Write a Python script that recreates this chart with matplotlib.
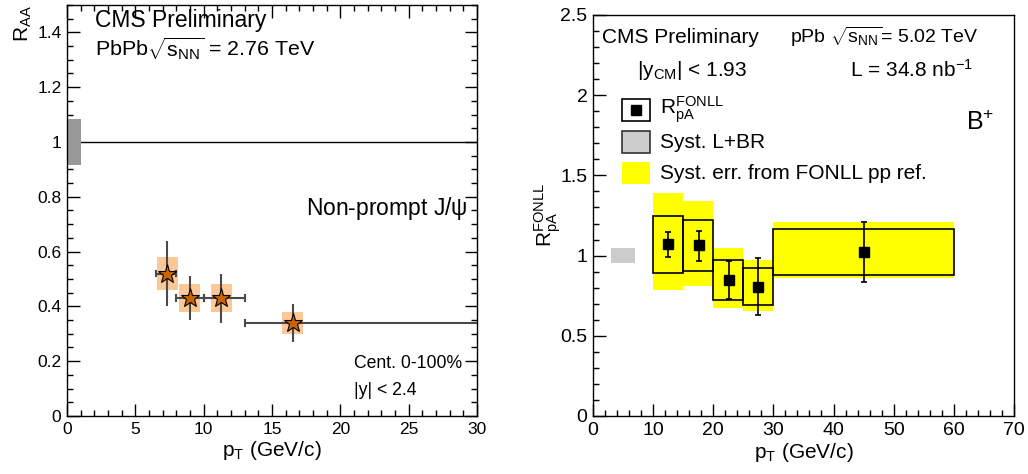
import numpy as np
import matplotlib
matplotlib.use("Agg")
import matplotlib.pyplot as plt
from matplotlib.patches import Rectangle
from matplotlib.ticker import MultipleLocator

plt.rcParams['font.family'] = ['Liberation Sans', 'DejaVu Sans']
plt.rcParams['mathtext.fontset'] = 'custom'
plt.rcParams['mathtext.rm'] = 'Liberation Sans'
plt.rcParams['mathtext.it'] = 'Liberation Sans'
plt.rcParams['mathtext.default'] = 'regular'

# --- PbPb non-prompt J/psi R_AA ---
aa_pt = [7.35, 8.97, 11.3, 16.5]
aa_lo = [6.5, 8.0, 10.0, 13.0]
aa_hi = [8.0, 10.0, 13.0, 30.0]
aa_raa = [0.52, 0.43, 0.43, 0.34]
aa_stat = [0.12, 0.08, 0.09, 0.07]
aa_syst = [0.06, 0.05, 0.05, 0.04]
aa_box_half = 0.77
aa_glob = 0.083  # global uncertainty at unity

# --- pPb B+ R_pA FONLL ---
pa_lo = [10, 15, 20, 25, 30]
pa_hi = [15, 20, 25, 30, 60]
pa_pt = [12.5, 17.6, 22.6, 27.5, 45.0]
pa_r = [1.07, 1.065, 0.846, 0.807, 1.021]
pa_stat_up = [0.08, 0.09, 0.123, 0.18, 0.19]
pa_stat_dn = [0.08, 0.10, 0.118, 0.18, 0.185]
pa_sys_hi = [1.244, 1.223, 0.973, 0.923, 1.167]
pa_sys_lo = [0.894, 0.903, 0.724, 0.693, 0.878]
pa_fonll_hi = [1.389, 1.339, 1.046, 0.975, 1.208]
pa_fonll_lo = [0.786, 0.811, 0.674, 0.653, 0.863]
pa_glob_x = (3, 7)
pa_glob = 0.045

fig = plt.figure(figsize=(10.28, 4.74), dpi=100)
ax1 = fig.add_axes([0.0652, 0.1224, 0.3988, 0.8671])
ax2 = fig.add_axes([0.5768, 0.1224, 0.4095, 0.846])

def root_ticks(ax, xmaj, xmin, ymaj, ymin, mirror, lsize):
    ax.xaxis.set_major_locator(MultipleLocator(xmaj))
    ax.xaxis.set_minor_locator(MultipleLocator(xmin))
    ax.yaxis.set_major_locator(MultipleLocator(ymaj))
    ax.yaxis.set_minor_locator(MultipleLocator(ymin))
    ax.tick_params(which='both', direction='in', top=mirror, right=mirror,
                   labelsize=lsize, width=1, pad=4)
    ax.tick_params(which='major', length=9)
    ax.tick_params(which='minor', length=4.5)
    ax.yaxis.set_major_formatter(plt.FuncFormatter(lambda v, p: f"{v:g}"))
    for s in ax.spines.values():
        s.set_linewidth(1)

# left panel
ax1.set_xlim(0, 30)
ax1.set_ylim(0, 1.5)
root_ticks(ax1, 5, 1, 0.2, 0.05, True, 12.5)
ax1.axhline(1, color='black', lw=1)
ax1.add_patch(Rectangle((0, 1 - aa_glob), 1.05, 2 * aa_glob, facecolor='#999999',
                        edgecolor='none', zorder=2))
for x, r, s in zip(aa_pt, aa_raa, aa_syst):
    ax1.add_patch(Rectangle((x - aa_box_half, r - s), 2 * aa_box_half, 2 * s,
                            facecolor='#fdc898', edgecolor='none', zorder=2))
aa_pt_a = np.array(aa_pt)
xerr = [aa_pt_a - np.array(aa_lo), np.array(aa_hi) - aa_pt_a]
ax1.errorbar(aa_pt, aa_raa, yerr=aa_stat, xerr=xerr, fmt='none', ecolor='#4a4a4a',
             elinewidth=1.5, capsize=0, zorder=3)
for lo, hi, r in zip(aa_lo, aa_hi, aa_raa):
    for e in (lo, hi):
        if e < 30:
            ax1.plot([e, e], [r - 0.01, r + 0.01], color='#4a4a4a', lw=1.5, zorder=3)
ax1.plot(aa_pt, aa_raa, ls='none', marker='*', markersize=14, markerfacecolor='#c86400',
         markeredgecolor='black', markeredgewidth=0.8, zorder=4)

ax1.set_xlabel(r'p$_{T}$ (GeV/c)', fontsize=15, labelpad=2)
ax1.set_ylabel(r'R$_{AA}$', fontsize=15, loc='top', labelpad=2)
ax1.text(0.068, 0.963, 'CMS Preliminary', transform=ax1.transAxes, fontsize=16.5,
         va='center', ha='left')
ax1.text(0.068, 0.895, r'PbPb$\sqrt{s_{NN}}$ = 2.76 TeV', transform=ax1.transAxes,
         fontsize=15.4, va='center', ha='left')
ax1.text(0.978, 0.505, r'Non-prompt J/$\psi$', transform=ax1.transAxes, fontsize=16.5,
         va='center', ha='right')
ax1.text(0.70, 0.128, 'Cent. 0-100%', transform=ax1.transAxes, fontsize=12.7,
         va='center', ha='left')
ax1.text(0.70, 0.062, '|y| < 2.4', transform=ax1.transAxes, fontsize=12.7,
         va='center', ha='left')

# right panel
ax2.set_xlim(0, 70)
ax2.set_ylim(0, 2.5)
root_ticks(ax2, 10, 2, 0.5, 0.1, False, 14)
ax2.add_patch(Rectangle((pa_glob_x[0], 1 - pa_glob), pa_glob_x[1] - pa_glob_x[0],
                        2 * pa_glob, facecolor='#cccccc', edgecolor='none', zorder=2))
for lo, hi, fl, fh in zip(pa_lo, pa_hi, pa_fonll_lo, pa_fonll_hi):
    ax2.add_patch(Rectangle((lo, fl), hi - lo, fh - fl, facecolor='#ffff00',
                            edgecolor='none', zorder=2))
for lo, hi, sl, sh in zip(pa_lo, pa_hi, pa_sys_lo, pa_sys_hi):
    ax2.add_patch(Rectangle((lo, sl), hi - lo, sh - sl, facecolor='none',
                            edgecolor='black', lw=1.2, zorder=3))
ax2.errorbar(pa_pt, pa_r, yerr=[pa_stat_dn, pa_stat_up], fmt='s', color='black',
             markersize=6.5, elinewidth=1.2, capsize=2.5, capthick=1.2, zorder=4)

ax2.set_xlabel(r'p$_{T}$ (GeV/c)', fontsize=15, labelpad=2)
ax2.set_ylabel(r'R$_{pA}^{FONLL}$', fontsize=15, labelpad=-2)
ax2.text(0.022, 0.945, 'CMS Preliminary', transform=ax2.transAxes, fontsize=15,
         va='center', ha='left')
ax2.text(0.468, 0.945, r'pPb $\sqrt{s_{NN}}$= 5.02 TeV', transform=ax2.transAxes,
         fontsize=14, va='center', ha='left')
ax2.text(0.105, 0.862, r'|y$_{CM}$| < 1.93', transform=ax2.transAxes, fontsize=15,
         va='center', ha='left')
ax2.text(0.902, 0.862, r'L = 34.8 nb$^{-1}$', transform=ax2.transAxes, fontsize=15,
         va='center', ha='right')
ax2.text(0.885, 0.73, r'B$^{+}$', transform=ax2.transAxes, fontsize=18,
         va='center', ha='left')

# legend drawn in axes fraction
leg_x, leg_w, leg_h = 0.07, 0.066, 0.055
leg_rows = [0.763, 0.683, 0.605]
ax2.add_patch(Rectangle((leg_x, leg_rows[0] - leg_h / 2), leg_w, leg_h,
                        transform=ax2.transAxes, facecolor='white', edgecolor='black',
                        lw=1.2, zorder=5))
ax2.plot([leg_x + leg_w / 2], [leg_rows[0]], marker='s', color='black', markersize=6.5,
         transform=ax2.transAxes, zorder=6)
ax2.add_patch(Rectangle((leg_x, leg_rows[1] - leg_h / 2), leg_w, leg_h,
                        transform=ax2.transAxes, facecolor='#cccccc', edgecolor='#333333',
                        lw=1.2, zorder=5))
ax2.add_patch(Rectangle((leg_x, leg_rows[2] - leg_h / 2), leg_w, leg_h,
                        transform=ax2.transAxes, facecolor='#ffff00', edgecolor='none',
                        zorder=5))
ax2.text(0.16, leg_rows[0], r'R$_{pA}^{FONLL}$', transform=ax2.transAxes, fontsize=15,
         va='center', ha='left')
ax2.text(0.16, leg_rows[1], 'Syst. L+BR', transform=ax2.transAxes, fontsize=15,
         va='center', ha='left')
ax2.text(0.16, leg_rows[2], 'Syst. err. from FONLL pp ref.', transform=ax2.transAxes,
         fontsize=15, va='center', ha='left')

fig.savefig('out.png', dpi=100)
